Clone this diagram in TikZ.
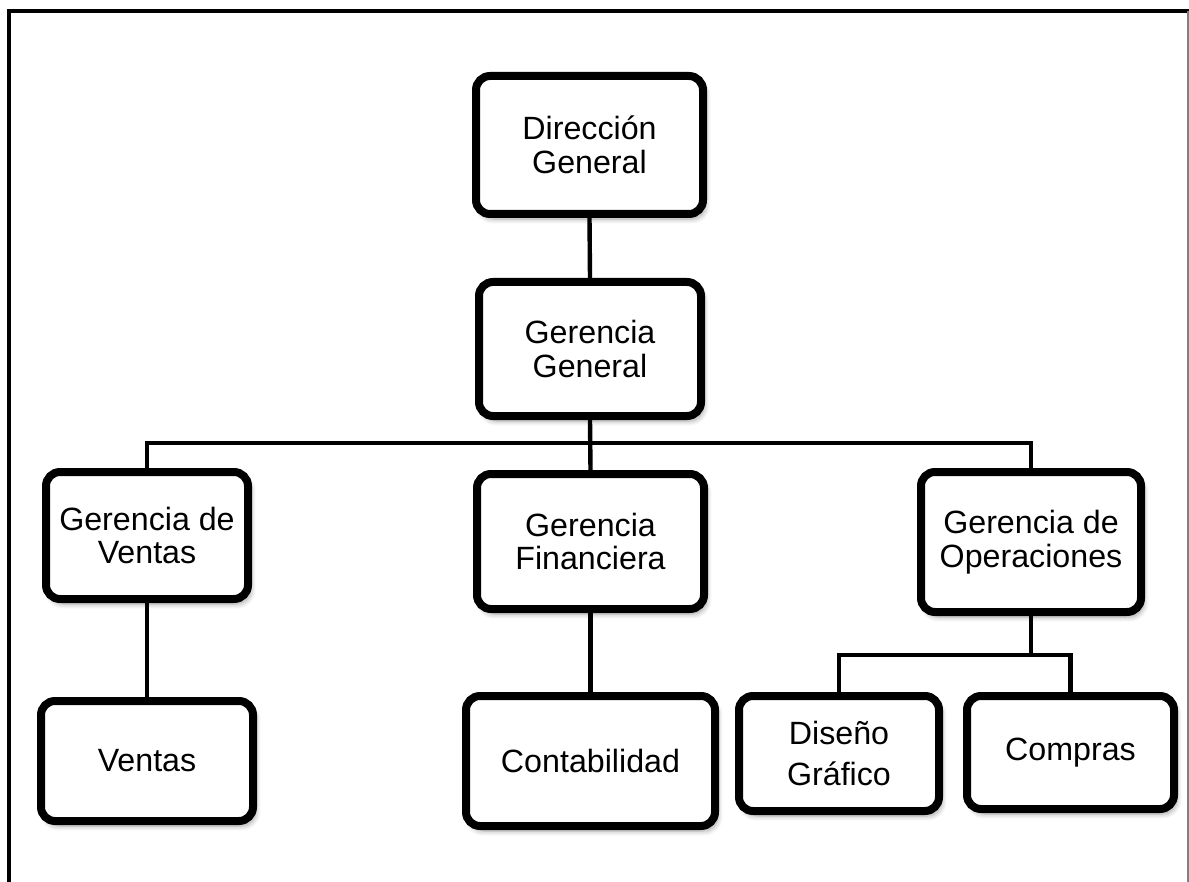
\documentclass[tikz,border=0pt]{standalone}
\usepackage{fontspec}
\setmainfont{Liberation Sans}
\usetikzlibrary{shadows.blur}
\begin{document}
\begin{tikzpicture}[x=0.5pt,y=-0.5pt,
  unit/.style={draw=black, fill=white, line width=4pt, rounded corners=7pt,
    align=center, inner sep=0pt, font=\fontsize{16.1}{16.9}\selectfont,
    blur shadow={shadow xshift=1.5pt, shadow yshift=-2.5pt, shadow blur steps=8,
      shadow blur radius=2.5pt, shadow opacity=35}},
  link/.style={line width=2.2pt, line cap=rect}]
\useasboundingbox (0,0) rectangle (1189,882);
% page frame
\draw[line width=2pt] (9,882) -- (9,11) -- (1189,11);
\draw[line width=0.6pt, gray] (1188,11) -- (1188,882);

% levels of the two branch bars
\coordinate (bar) at (590,443);
\coordinate (obar) at (1031,655);

% units
\node[unit, minimum width=113.5pt, minimum height=69pt] (dir) at (589.5,145) {Dirección\\General};
\node[unit, minimum width=111pt, minimum height=67pt] (gg) at (590,349) {Gerencia\\General};
\node[unit, minimum width=101pt, minimum height=63.5pt] (gv) at (147,535.5) {Gerencia de\\Ventas};
\node[unit, minimum width=113.5pt, minimum height=67.5pt] (gf) at (590.5,541.5) {Gerencia\\Financiera};
\node[unit, minimum width=110pt, minimum height=70pt] (go) at (1031,542) {Gerencia de\\Operaciones};
\node[unit, minimum width=106pt, minimum height=60pt] (ve) at (147,761) {Ventas};
\node[unit, minimum width=124.5pt, minimum height=65pt] (co) at (590.5,761) {Contabilidad};
\node[unit, minimum width=100pt, minimum height=57.5pt] (di) at (839,753.5) {Diseño\\[4pt]Gráfico};
\node[unit, minimum width=103.5pt, minimum height=56.5pt] (cp) at (1070.5,752.5) {Compras};

% reporting lines
\draw[link] (dir.south) -- (gg.north);
\draw[link] (gg.south) -- (gf.north);
\draw[link] (gv.north) -- (gv.north |- bar) -- (go.north |- bar) -- (go.north);
\draw[link] (gv.south) -- (ve.north);
\draw[link] (gf.south) -- (co.north);
\draw[link] (go.south) -- (obar);
\draw[link] (di.north) -- (di.north |- obar) -- (cp.north |- obar) -- (cp.north);
\end{tikzpicture}
\end{document}
